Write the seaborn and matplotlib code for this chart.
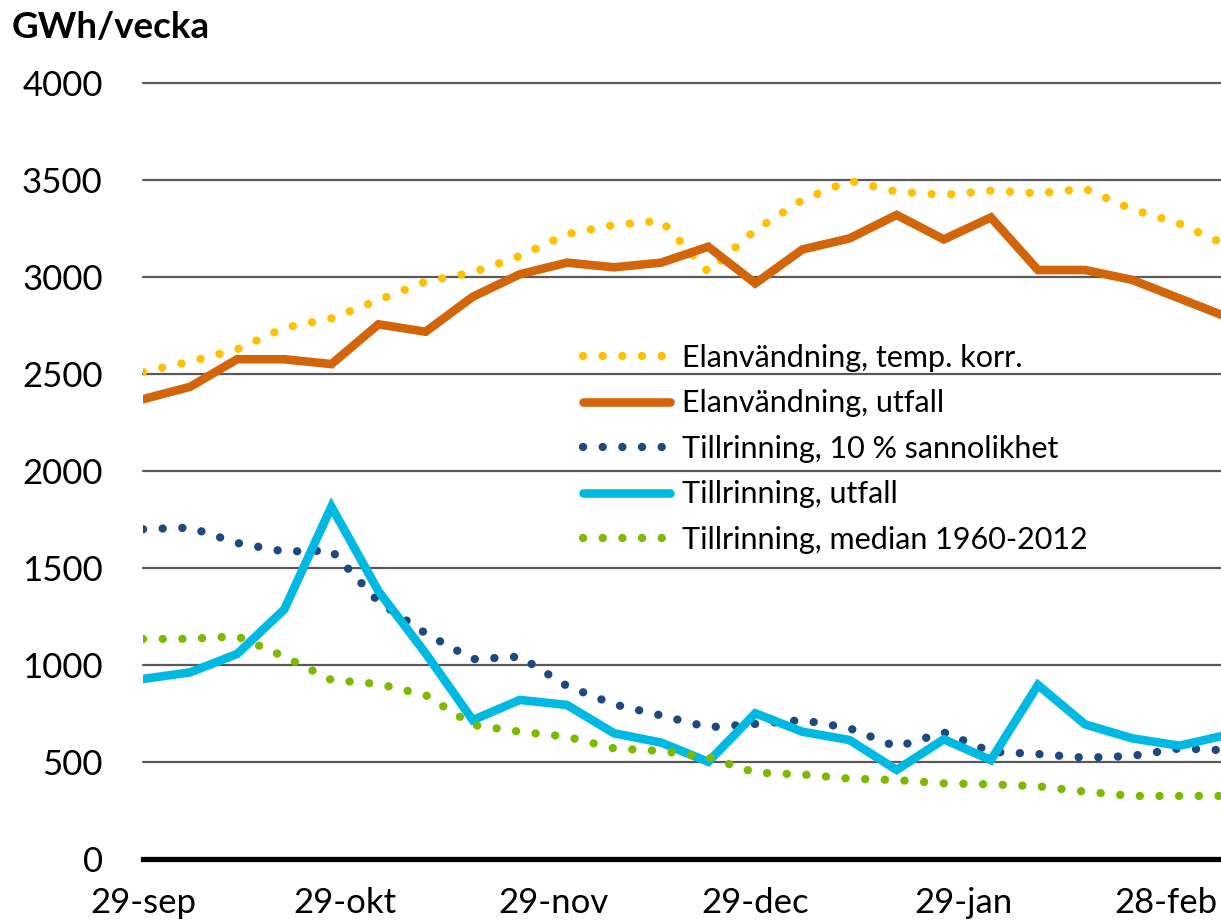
import numpy as np
import pandas as pd
import matplotlib
matplotlib.use("Agg")
import matplotlib.pyplot as plt
import seaborn as sns

# ---- data (GWh/vecka, weekly from 29-sep) ----
week_day = [0, 7, 14, 21, 28, 35, 42, 49, 56, 63, 70, 77, 84, 91, 98, 105,
            112, 119, 126, 133, 140, 147, 154, 161]
elan_temp = [2510, 2564, 2627, 2738, 2787, 2881, 2976, 3024, 3108, 3221, 3268, 3290,
             3027, 3242, 3397, 3496, 3440, 3423, 3445, 3431, 3455, 3349, 3275, 3165]
elan_utfall = [2370, 2434, 2576, 2576, 2551, 2756, 2718, 2898, 3014, 3074, 3050, 3074,
               3156, 2967, 3142, 3199, 3320, 3194, 3307, 3036, 3036, 2985, 2890, 2795]
till_10 = [1700, 1708, 1629, 1585, 1590, 1326, 1163, 1030, 1043, 892, 797, 740,
           679, 696, 716, 674, 578, 653, 553, 541, 522, 531, 570, 560]
till_utfall = [928, 962, 1057, 1287, 1816, 1380, 1060, 716, 820, 794, 648, 600,
               501, 751, 656, 613, 459, 617, 510, 897, 694, 622, 584, 639]
till_median = [1134, 1135, 1148, 1043, 923, 902, 845, 691, 656, 630, 570, 557,
               524, 445, 436, 414, 407, 390, 385, 375, 347, 325, 325, 325]

tick_days = [0, 30, 61, 91, 122, 152]
tick_labels = ["29-sep", "29-okt", "29-nov", "29-dec", "29-jan", "28-feb"]
y_ticks = [0, 500, 1000, 1500, 2000, 2500, 3000, 3500, 4000]

series_names = ["Elanvändning, temp. korr.", "Elanvändning, utfall",
                "Tillrinning, 10 % sannolikhet", "Tillrinning, utfall",
                "Tillrinning, median 1960-2012"]
series_vals = [elan_temp, elan_utfall, till_10, till_utfall, till_median]
colors = ["#FFC000", "#D2640A", "#1F497D", "#00B9E3", "#7DB900"]
dotted = [True, False, True, False, True]

sns.set_theme(style="white")
plt.rcParams['font.family'] = ['Lato', 'DejaVu Sans']

fig = plt.figure(figsize=(12.21, 9.23), dpi=100)
ax = fig.add_axes([143/1221, 1-859/923, 1-143/1221, (859-83)/923])

for name, vals, col, dot in zip(series_names, series_vals, colors, dotted):
    if dot:
        sns.lineplot(x=week_day, y=vals, ax=ax, color=col, linewidth=6.0,
                     linestyle=(0, (0.01, 2.35)), dash_capstyle='round',
                     label=name)
    else:
        sns.lineplot(x=week_day, y=vals, ax=ax, color=col, linewidth=6.2,
                     solid_capstyle='round', solid_joinstyle='miter', label=name)

ax.set_xlim(0, 160.2)
ax.set_ylim(0, 4000)
ax.set_yticks(y_ticks)
ax.set_yticklabels([str(v) for v in y_ticks])
ax.set_xticks(tick_days)
ax.set_xticklabels(tick_labels)
ax.set_xlabel("")
ax.set_ylabel("")

ax.yaxis.grid(True, color="#595959", linewidth=1.6)
ax.xaxis.grid(False)
ax.set_axisbelow(True)
for g in ax.get_ygridlines():
    g.set_clip_on(False)
for s in ["left", "right", "top"]:
    ax.spines[s].set_visible(False)
ax.spines["bottom"].set_color("black")
ax.spines["bottom"].set_linewidth(3.8)
ax.tick_params(axis="y", length=0, pad=29, labelsize=25, labelcolor="black")
ax.tick_params(axis="x", length=0, pad=20, labelsize=25, labelcolor="black")

leg = ax.legend(loc="upper left", bbox_to_anchor=(583/1221, 1-344/923),
                bbox_transform=fig.transFigure, frameon=False, fontsize=22,
                handlelength=2.85, handletextpad=0.4, labelspacing=0.57,
                borderaxespad=0, borderpad=0, labelcolor="black")

fig.text(12/1221, 1-28/923, "GWh/vecka", fontsize=26.5, fontweight="bold",
         ha="left", va="center", color="black")

fig.savefig("out.png", dpi=100)
